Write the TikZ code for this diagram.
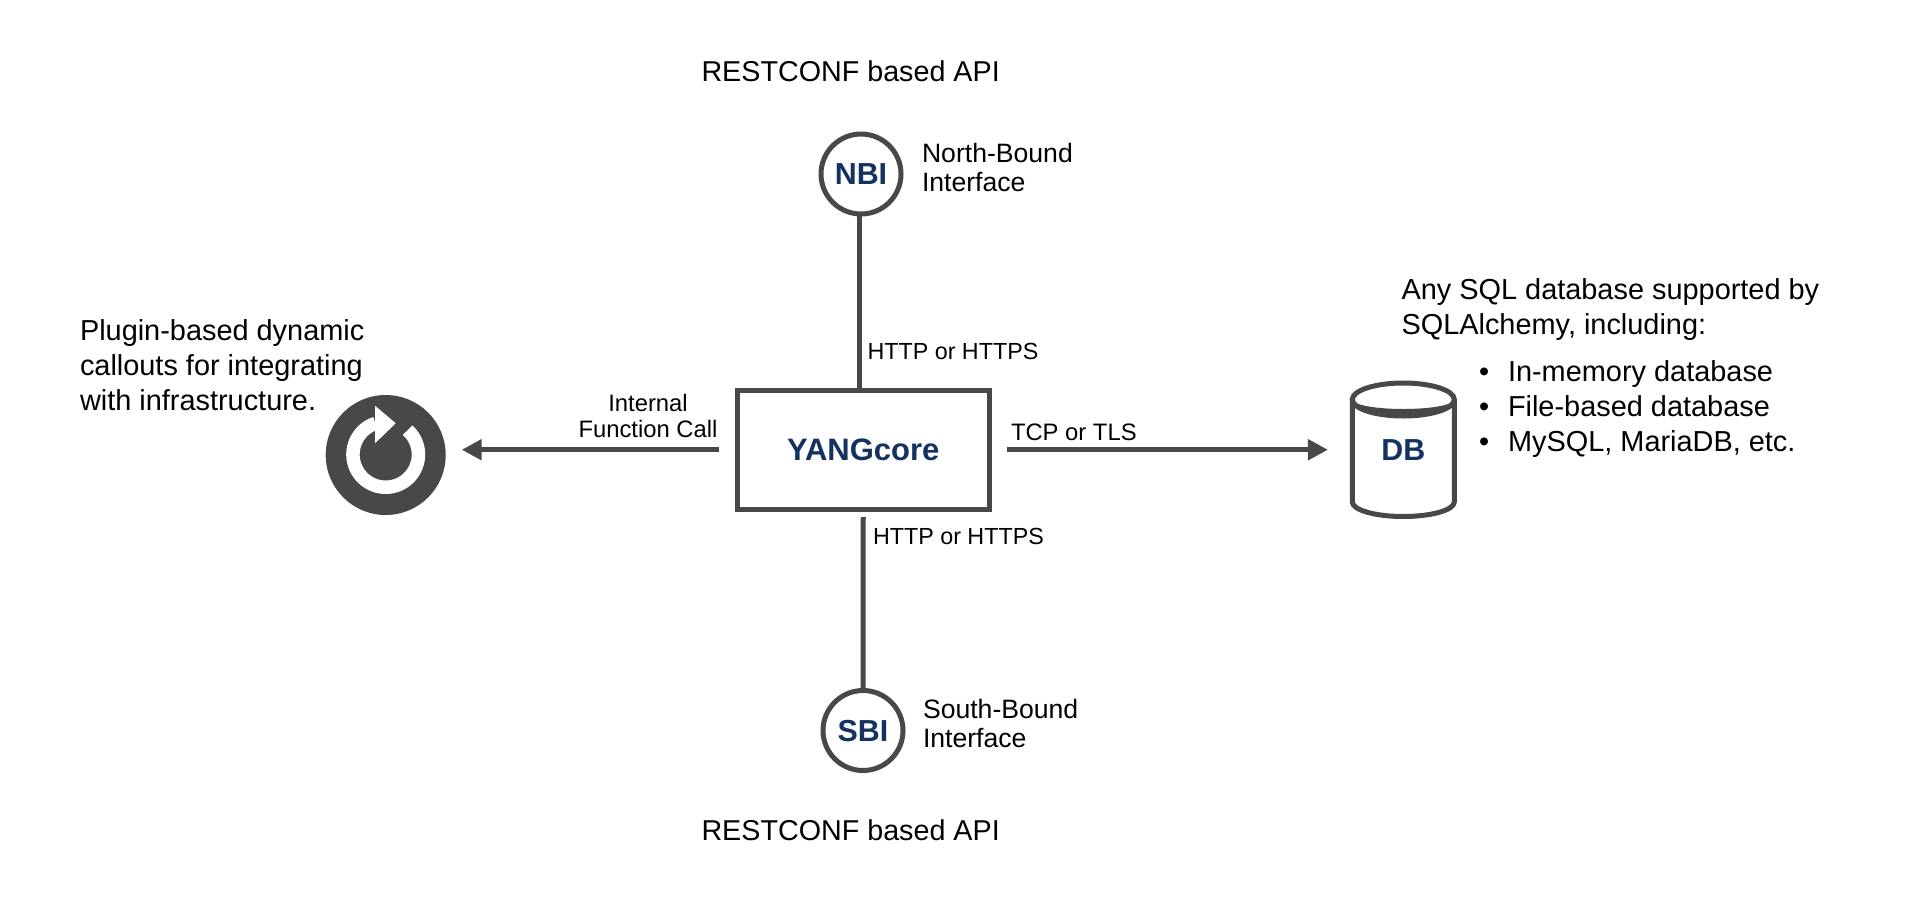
\documentclass[tikz,border=0pt]{standalone}
\usepackage{fontspec}
\setmainfont{Liberation Sans}
\usetikzlibrary{arrows.meta}
\definecolor{inkgrey}{HTML}{484848}
\definecolor{navy}{HTML}{14325F}
\tikzset{
  ink/.style={draw=inkgrey,line width=5pt},
  conn/.style={draw=inkgrey,line width=5pt},
  arrowconn/.style={conn,-{Triangle[length=20pt,width=20pt,fill=inkgrey]}},
  title/.style={font=\fontsize{30.4}{32}\selectfont\bfseries,text=navy,text height=21.7pt,text depth=0pt,inner sep=0pt,outer sep=0pt},
  bubble/.style={ink,circle,minimum size=80pt,title},
  big/.style={anchor=base west,inner sep=0pt,outer sep=0pt,align=left,font=\fontsize{28.9}{34.8}\selectfont},
  api/.style={big,font=\fontsize{28.7}{34.8}\selectfont},
  mid/.style={anchor=base west,inner sep=0pt,outer sep=0pt,align=left,font=\fontsize{26.6}{28.8}\selectfont},
  small/.style={anchor=base west,inner sep=0pt,outer sep=0pt,font=\fontsize{23.3}{26.3}\selectfont},
  smallb/.style={small,font=\fontsize{23.8}{26.3}\selectfont},
}
\begin{document}
\begin{tikzpicture}[x=1pt,y=-1pt]
\useasboundingbox (0,0) rectangle (1910,916);

% main nodes
\node[ink,title,rectangle,font=\fontsize{31}{32}\selectfont\bfseries,minimum width=252.5pt,minimum height=119.5pt] (core) at (863.25,449.75) {YANGcore};
\node[bubble] (nbi) at (861,174) {NBI};
\node[bubble] (sbi) at (863,730.5) {SBI};
\node[title,minimum width=106.7pt,minimum height=138pt] (db) at (1403.3,450) {DB};
\node[circle,fill=inkgrey,minimum size=120pt,inner sep=0pt,outer sep=0pt] (icon) at (385.7,455) {};

% refresh glyph
\draw[white,line width=13.5pt] ([shift={(108:32.75pt)}]385.7,454.5) arc[start angle=108,end angle=408,radius=32.75pt];
\fill[white] (375,405.7) -- (395.7,423.3) -- (375,443.3) -- cycle;

% cylinder
\draw[inkgrey,line width=5pt,line join=round] (1352.3,399.5) -- (1352.3,502) arc[start angle=180,end angle=360,x radius=51pt,y radius=14.5pt] -- (1454.3,399.5);
\draw[inkgrey,line width=5pt] (1403.3,399.5) ellipse[x radius=51pt,y radius=16.5pt];
\fill[inkgrey] (1352.3,399.5) arc[start angle=180,end angle=360,x radius=51pt,y radius=18.5pt] arc[start angle=360,end angle=180,x radius=51pt,y radius=9.5pt] -- cycle;

% connectors
\coordinate (nbiline) at (859,300);
\draw[conn] (nbi.south -| nbiline) -- (core.north -| nbiline);
\draw[conn,shorten <=7.5pt] (core.south) -- (sbi.north);
\draw[arrowconn,shorten <=18pt,shorten >=16pt] (core.west) -- (core.west -| icon.east);
\draw[arrowconn,shorten <=17.5pt,shorten >=22pt] (core.east) -- (core.east -| db.west);

% labels
\node[api] (apitop) at (701.5,81.5) {RESTCONF based API};
\node[api] (apibot) at (701.5,840.7) {RESTCONF based API};
\node[mid] (nbilab) at (922,191.5) {North-Bound\\Interface};
\node[mid] (sbilab) at (923,747.5) {South-Bound\\Interface};
\node[small] (httptop) at (867.5,359) {HTTP or HTTPS};
\node[small] (httpbot) at (873,544) {HTTP or HTTPS};
\node[smallb] (tcp) at (1011,440) {TCP or TLS};
\node[smallb,align=center,anchor=base] (call) at (648,437.3) {Internal\\Function Call};
\node[big] (plugin) at (80,410.5) {Plugin-based dynamic\\callouts for integrating\\with infrastructure.};
\node[big] (sql) at (1401.5,334) {Any SQL database supported by\\SQLAlchemy, including:};
\node[big] (list) at (1479,451.5) {\makebox[29pt][l]{•}In-memory database\\\makebox[29pt][l]{•}File-based database\\\makebox[29pt][l]{•}MySQL, MariaDB, etc.};
\end{tikzpicture}
\end{document}
